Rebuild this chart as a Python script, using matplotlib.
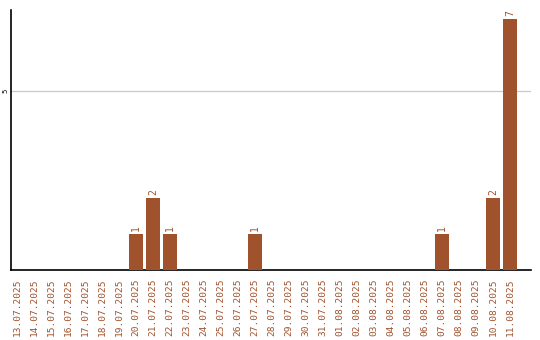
import matplotlib
matplotlib.use("Agg")
import matplotlib.pyplot as plt
import pandas as pd

dates = [d.strftime("%d.%m.%Y") for d in pd.date_range("2025-07-13", "2025-08-11")]
counts = [0, 0, 0, 0, 0, 0, 0, 1, 2, 1, 0, 0, 0, 0, 1, 0, 0, 0, 0, 0,
          0, 0, 0, 0, 0, 1, 0, 0, 2, 7]

bar_color = "#A0522D"

fig = plt.figure(figsize=(5.4, 3.4), dpi=100)
ax = fig.add_axes([0.0204, 0.206, 0.963, 0.765])

x = list(range(len(dates)))
ax.bar(x, counts, width=0.82, color=bar_color, zorder=3)

for xi, v in zip(x, counts):
    if v > 0:
        ax.text(xi, v + 0.08, str(v), rotation=90, ha="center", va="bottom",
                fontsize=7, color=bar_color, family="DejaVu Sans Mono")

ax.set_xlim(-0.35, 30.24)
ax.set_ylim(0, 7.26)
ax.set_yticks([5])
ax.set_yticklabels(["5"], rotation=90, va="center", ha="right", fontsize=5)
ax.yaxis.grid(True, color="#c8c8c8", linewidth=0.9, zorder=0)
ax.tick_params(axis="y", length=0, pad=1.5)

ax.set_xticks(x)
ax.set_xticklabels(dates, rotation=90, fontsize=6.8, color=bar_color,
                   family="DejaVu Sans Mono")
ax.tick_params(axis="x", length=0, pad=6)

for s in ("top", "right"):
    ax.spines[s].set_visible(False)
ax.spines["left"].set_color("black")
ax.spines["bottom"].set_color("black")
ax.spines["left"].set_linewidth(1.2)
ax.spines["bottom"].set_linewidth(1.2)

fig.savefig("out.png", dpi=100)
